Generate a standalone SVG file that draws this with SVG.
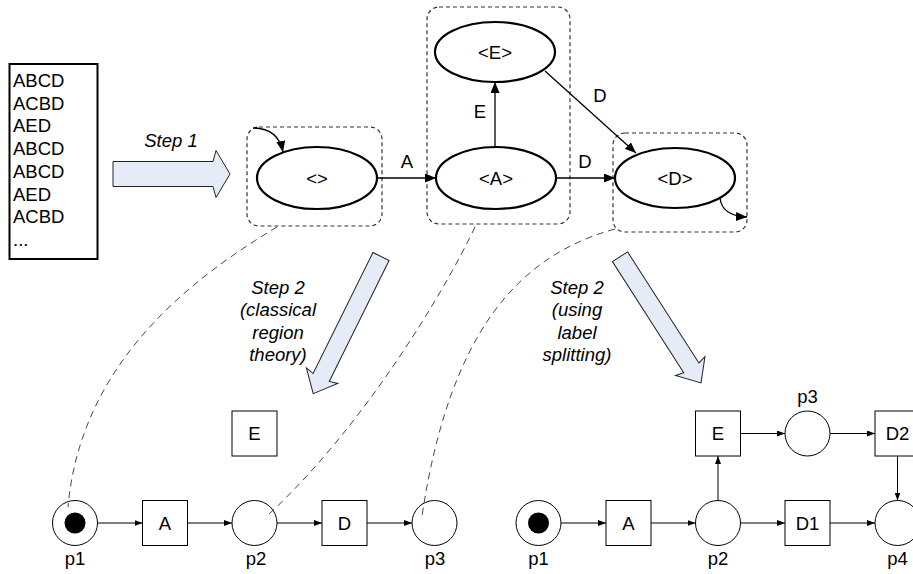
<svg xmlns="http://www.w3.org/2000/svg" width="913" height="574" viewBox="0 0 913 574">
<defs>
<style>
text{font-family:"Liberation Sans",Arial,sans-serif;font-size:18.5px;fill:#000}
.it{font-style:italic}
.mid{text-anchor:middle}
.state{fill:#fff;stroke:#000;stroke-width:2.2}
.region{fill:none;stroke:#333;stroke-width:1.2;stroke-dasharray:4,3}
.link{fill:none;stroke:#333;stroke-width:0.9;stroke-dasharray:7,5}
.edge{fill:none;stroke:#000;stroke-width:1.3}
.arc{fill:none;stroke:#000;stroke-width:1}
.place{fill:#fff;stroke:#000;stroke-width:1}
.trans{fill:#fff;stroke:#000;stroke-width:1}
.step{fill:#e6ecf7;stroke:#222;stroke-width:1}
</style>
<marker id="big" markerUnits="userSpaceOnUse" markerWidth="11" markerHeight="9" refX="11" refY="4.5" orient="auto"><path d="M0,0 L11,4.5 L0,9 z" fill="#000"/></marker>
<marker id="small" markerUnits="userSpaceOnUse" markerWidth="8" markerHeight="6" refX="8" refY="3" orient="auto"><path d="M0,0 L8,3 L0,6 z" fill="#000"/></marker>
</defs>
<rect width="913" height="574" fill="#fff"/>

<g id="log">
<rect x="9.5" y="64" width="88" height="195" fill="#fff" stroke="#000" stroke-width="2"/>
<text x="13" y="87">ABCD</text>
<text x="13" y="109.7">ACBD</text>
<text x="13" y="132.4">AED</text>
<text x="13" y="155.1">ABCD</text>
<text x="13" y="177.8">ABCD</text>
<text x="13" y="200.5">AED</text>
<text x="13" y="223.2">ACBD</text>
<text x="13" y="245.9">...</text>
</g>

<g id="steps">
<path class="step" transform="translate(113,174)" d="M0,-12.5 L100,-12.5 L103,-23.5 L117,0 L103,23.5 L100,12.5 L0,12.5 Z"/>
<text class="it mid" x="171" y="147">Step 1</text>
<path class="step" transform="translate(381,256.5) rotate(116.3)" d="M0,-9 L135,-9 L133,-17.5 L153,0 L133,17.5 L135,9 L0,9 Z"/>
<text class="it mid" x="278" y="293.5">Step 2</text>
<text class="it mid" x="278" y="316">(classical</text>
<text class="it mid" x="278" y="338.5">region</text>
<text class="it mid" x="278" y="361">theory)</text>
<path class="step" transform="translate(620,256.7) rotate(57.3)" d="M0,-9 L132,-9 L130,-17.5 L150,0 L130,17.5 L132,9 L0,9 Z"/>
<text class="it mid" x="577" y="293.5">Step 2</text>
<text class="it mid" x="577" y="316">(using</text>
<text class="it mid" x="577" y="338.5">label</text>
<text class="it mid" x="577" y="361">splitting)</text>
</g>

<g id="regions">
<rect class="region" x="247" y="127" width="135" height="99" rx="12"/>
<rect class="region" x="427" y="7" width="143" height="217" rx="12"/>
<rect class="region" x="613" y="133" width="134" height="99" rx="12"/>
</g>

<g id="s-empty"><ellipse class="state" cx="317" cy="178" rx="60" ry="31"/><text class="mid" x="317" y="184.5">&lt;&gt;</text></g>
<g id="s-A"><ellipse class="state" cx="496" cy="178" rx="60" ry="31"/><text class="mid" x="496" y="184.5">&lt;A&gt;</text></g>
<g id="s-E"><ellipse class="state" cx="495" cy="52" rx="60" ry="30"/><text class="mid" x="495" y="58.5">&lt;E&gt;</text></g>
<g id="s-D"><ellipse class="state" cx="675" cy="178" rx="60" ry="30"/><text class="mid" x="675" y="184.5">&lt;D&gt;</text></g>

<g id="ts-edges">
<path class="edge" d="M253,128 Q278,128 283,152" marker-end="url(#big)"/>
<path class="edge" d="M377,178 L436,178" marker-end="url(#big)"/>
<text class="mid" x="407" y="168">A</text>
<path class="edge" d="M495,147 L495,82" marker-end="url(#big)"/>
<text class="mid" x="480" y="118">E</text>
<path class="edge" d="M556,178 L615,178" marker-end="url(#big)"/>
<text class="mid" x="585" y="168">D</text>
<path class="edge" d="M545,71 L636,153" marker-end="url(#big)"/>
<text class="mid" x="600" y="102">D</text>
<path class="edge" d="M720,198 Q722,216 747,217" marker-end="url(#big)"/>
</g>

<g id="pn1">
<g id="pn1-p1"><circle class="place" cx="75" cy="523" r="22.5"/><circle cx="75" cy="523" r="10.5" fill="#000"/><text class="mid" x="75" y="565">p1</text></g>
<g id="pn1-A"><rect class="trans" x="142.5" y="500.5" width="45" height="45"/><text class="mid" x="165" y="529.6">A</text></g>
<g id="pn1-p2"><circle class="place" cx="254.5" cy="523" r="22.5"/><text class="mid" x="256" y="565">p2</text></g>
<g id="pn1-D"><rect class="trans" x="322" y="500.5" width="45" height="45"/><text class="mid" x="344.5" y="529.6">D</text></g>
<g id="pn1-p3"><circle class="place" cx="434.5" cy="523" r="22.5"/><text class="mid" x="435" y="565">p3</text></g>
<g id="pn1-E"><rect class="trans" x="232" y="411" width="45" height="45"/><text class="mid" x="254.5" y="440">E</text></g>
</g>

<g id="pn2">
<g id="pn2-p1"><circle class="place" cx="538.5" cy="523" r="22.5"/><circle cx="538.5" cy="523" r="10.5" fill="#000"/><text class="mid" x="538.5" y="565">p1</text></g>
<g id="pn2-A"><rect class="trans" x="606" y="500.5" width="45" height="45"/><text class="mid" x="628.5" y="529.6">A</text></g>
<g id="pn2-p2"><circle class="place" cx="718" cy="523" r="22.5"/><text class="mid" x="718" y="565">p2</text></g>
<g id="pn2-D1"><rect class="trans" x="785" y="500.5" width="45" height="45"/><text class="mid" x="807.5" y="529.6">D1</text></g>
<g id="pn2-p4"><circle class="place" cx="897.5" cy="523" r="22.5"/><text class="mid" x="897.5" y="565">p4</text></g>
<g id="pn2-E"><rect class="trans" x="695.5" y="411" width="45" height="45"/><text class="mid" x="718" y="440">E</text></g>
<g id="pn2-p3"><circle class="place" cx="807.5" cy="433.5" r="22.5"/><text class="mid" x="807.5" y="403">p3</text></g>
<g id="pn2-D2"><rect class="trans" x="875" y="411" width="45" height="45"/><text class="mid" x="897.5" y="440">D2</text></g>
</g>

<g id="arcs">
<path class="arc" d="M97.5,523 L142.5,523" marker-end="url(#small)"/>
<path class="arc" d="M187.5,523 L232,523" marker-end="url(#small)"/>
<path class="arc" d="M277,523 L322,523" marker-end="url(#small)"/>
<path class="arc" d="M367,523 L412,523" marker-end="url(#small)"/>
<path class="arc" d="M561,523 L606,523" marker-end="url(#small)"/>
<path class="arc" d="M651,523 L695.5,523" marker-end="url(#small)"/>
<path class="arc" d="M740.5,523 L785,523" marker-end="url(#small)"/>
<path class="arc" d="M830,523 L875,523" marker-end="url(#small)"/>
<path class="arc" d="M718,500.5 L718,456" marker-end="url(#small)"/>
<path class="arc" d="M740.5,433.5 L785,433.5" marker-end="url(#small)"/>
<path class="arc" d="M830,433.5 L875,433.5" marker-end="url(#small)"/>
<path class="arc" d="M897.5,456 L897.5,500.5" marker-end="url(#small)"/>
</g>

<g id="links">
<path class="link" d="M277,227 C180,285 80,370 68,507"/>
<path class="link" d="M475,227 C440,300 360,430 268,515"/>
<path class="link" d="M615,229 C520,255 450,330 422,516"/>
</g>
</svg>
